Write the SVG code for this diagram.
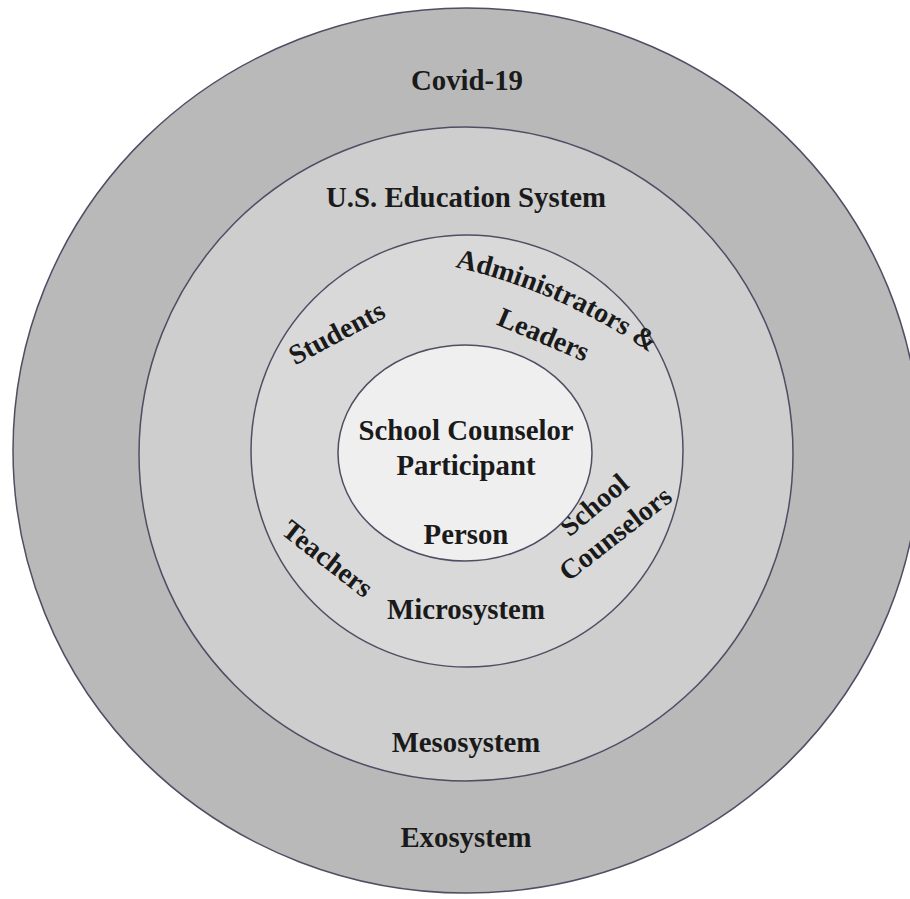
<svg xmlns="http://www.w3.org/2000/svg" width="910" height="899" viewBox="0 0 910 899">
<style>
.ring{stroke:#4e4e64;stroke-width:1.5}
.t{font-family:"Liberation Serif","Times New Roman",serif;font-weight:bold;font-size:28.8px;fill:#1a1a1a;text-anchor:middle}
.r{font-family:"Liberation Serif","Times New Roman",serif;font-weight:bold;font-size:28px;fill:#1a1a1a;text-anchor:middle}
.ts{font-family:"Liberation Serif","Times New Roman",serif;font-weight:bold;font-size:28px;fill:#1a1a1a}
</style>
<defs>
<path id="adminArc" d="M 455 267 A 574 574 0 0 1 694 386" fill="none"/>
</defs>
<rect width="910" height="899" fill="#ffffff"/>
<g id="exosystem">
<ellipse class="ring" cx="466.5" cy="450.5" rx="453.5" ry="442.5" fill="#b9b9b9"/>
<text class="t" x="467" y="90">Covid-19</text>
<text class="t" x="466" y="847">Exosystem</text>
</g>
<g id="mesosystem">
<circle class="ring" cx="466" cy="454" r="327" fill="#cecece"/>
<text class="t" x="466" y="207">U.S. Education System</text>
<text class="t" x="466" y="752">Mesosystem</text>
</g>
<g id="microsystem">
<circle class="ring" cx="467" cy="451" r="216" fill="#d9d9d9"/>
<text class="r" transform="translate(341,341) rotate(-28)">Students</text>
<text class="ts"><textPath href="#adminArc">Administrators &amp;</textPath></text>
<text class="r" transform="translate(540,343) rotate(23)">Leaders</text>
<text class="r" transform="translate(322,566) rotate(38)">Teachers</text>
<text class="r" transform="translate(600,512) rotate(-40)">School</text>
<text class="r" transform="translate(621,541) rotate(-38)">Counselors</text>
<text class="t" x="466" y="619">Microsystem</text>
</g>
<g id="person">
<ellipse class="ring" cx="465" cy="453" rx="127" ry="108" fill="#efefef"/>
<text class="t" x="466" y="440">School Counselor</text>
<text class="t" x="466" y="475">Participant</text>
<text class="t" x="466" y="544">Person</text>
</g>
<g id="connectors"></g>
</svg>
